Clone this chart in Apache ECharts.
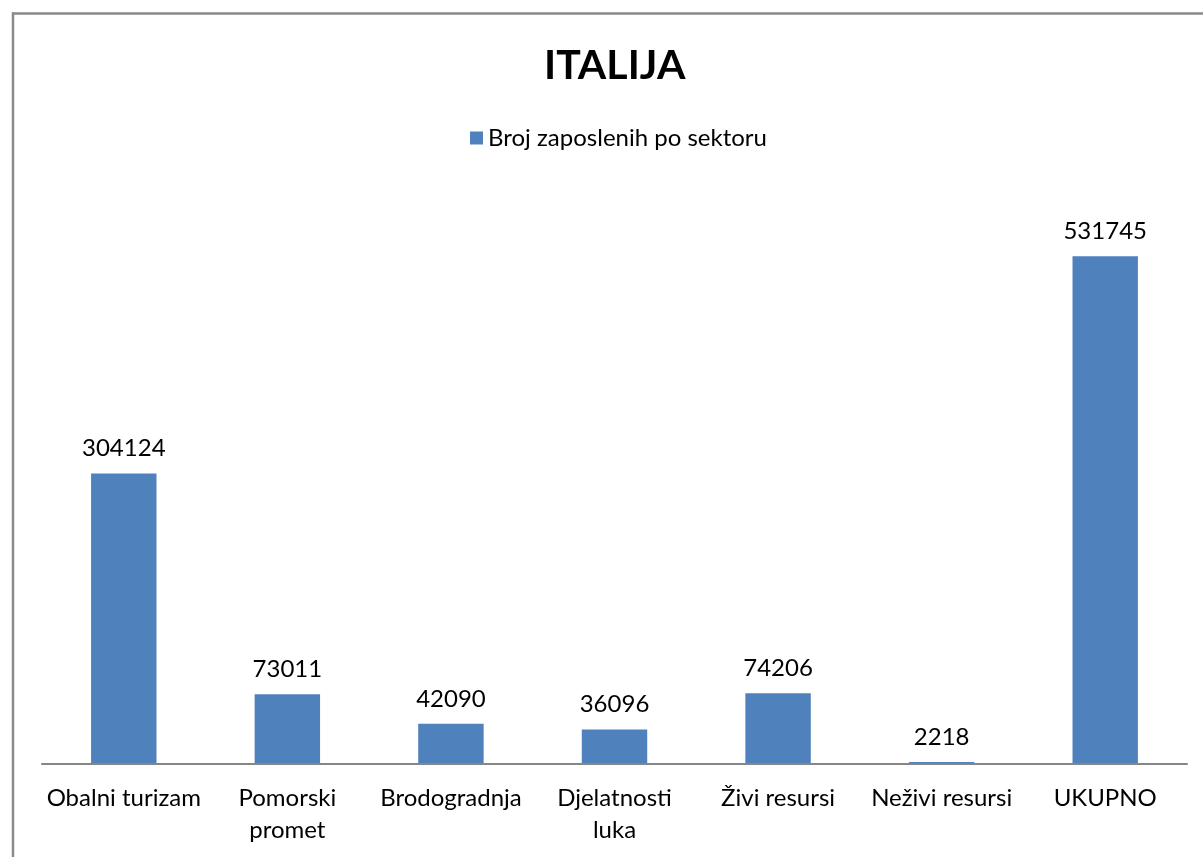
<!DOCTYPE html>
<html>
<head>
<meta charset="utf-8">
<script src="https://cdn.jsdelivr.net/npm/echarts@6/dist/echarts.min.js"></script>
<style>
html,body{margin:0;padding:0;background:#fff;}
#c{width:1203px;height:857px;}
</style>
</head>
<body>
<div id="c"></div>
<script>
const titleText = 'ITALIJA';
const seriesName = 'Broj zaposlenih po sektoru';
const categories = ['Obalni turizam', 'Pomorski promet', 'Brodogradnja', 'Djelatnosti luka', 'Živi resursi', 'Neživi resursi', 'UKUPNO'];
const values = [304124, 73011, 42090, 36096, 74206, 2218, 531745];

const chart = echarts.init(document.getElementById('c'));
const font = 'Lato, "Open Sans", sans-serif';
chart.setOption({
  backgroundColor: '#fff',
  animation: false,
  title: {
    text: titleText,
    left: 539, top: 40,
    textStyle: {fontFamily: font, fontSize: 41, fontWeight: 'bold', color: '#000'}
  },
  legend: {
    data: [seriesName],
    left: 465, top: 121,
    itemWidth: 13, itemHeight: 13, itemGap: 9,
    icon: 'rect',
    textStyle: {fontFamily: font, fontSize: 24, color: '#000'}
  },
  graphic: [
    {type: 'line', shape: {x1: 12, y1: 13.5, x2: 1203, y2: 13.5}, style: {stroke: '#8a8a8a', lineWidth: 2.5}},
    {type: 'line', shape: {x1: 13, y1: 12.5, x2: 13, y2: 857}, style: {stroke: '#8a8a8a', lineWidth: 2.5}}
  ],
  grid: {left: 42, right: 16, top: 191, bottom: 93, containLabel: false},
  xAxis: {
    type: 'category',
    data: categories,
    z: 5,
    axisTick: {show: false},
    axisLine: {lineStyle: {color: '#868686', width: 2}},
    axisLabel: {
      fontFamily: font, fontSize: 24, color: '#000', margin: 18, lineHeight: 32,
      interval: 0,
      formatter: function (v) { return v.length > 14 ? v.replace(' ', '\n') : v; }
    }
  },
  yAxis: {
    type: 'value', min: 0, max: 600000, interval: 100000,
    show: false, splitLine: {show: false}
  },
  series: [{
    name: seriesName,
    type: 'bar',
    data: values,
    barWidth: '40%',
    itemStyle: {color: '#4F81BD'},
    label: {
      show: true, position: 'top', distance: 13,
      fontFamily: font, fontSize: 24, color: '#000'
    }
  }]
});
</script>
</body>
</html>
